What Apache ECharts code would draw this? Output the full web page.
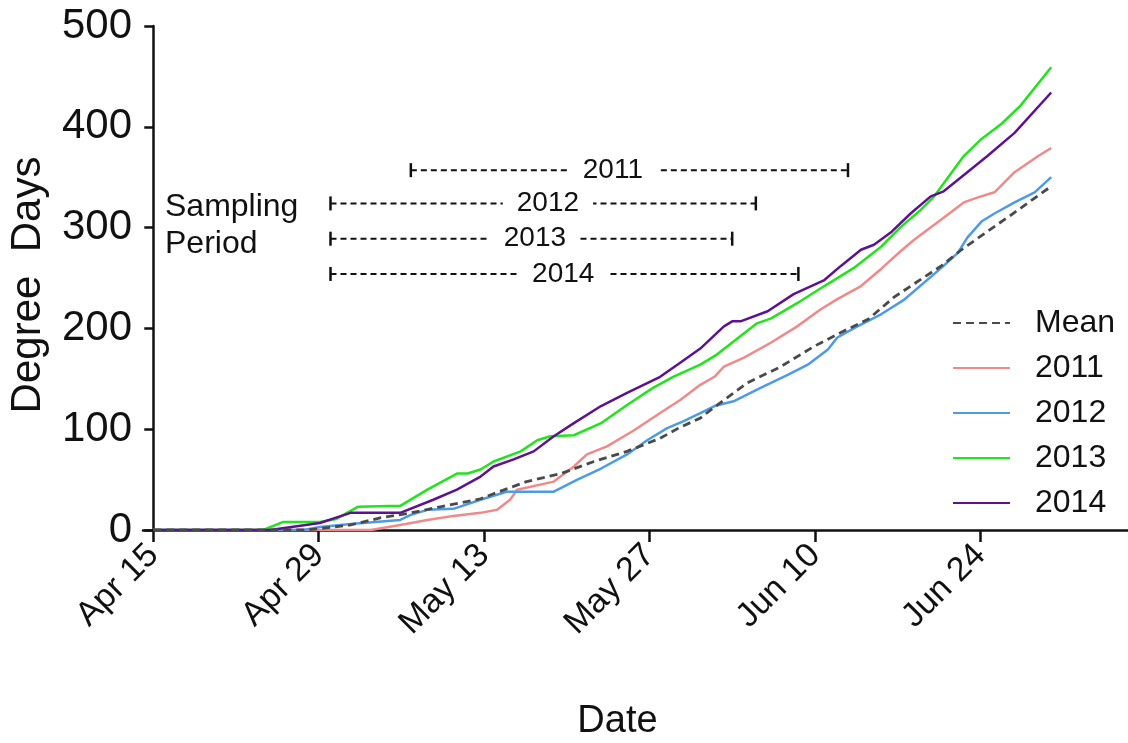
<!DOCTYPE html>
<html><head><meta charset="utf-8">
<script src="https://cdn.jsdelivr.net/npm/echarts@6/dist/echarts.min.js"></script>
<style>html,body{margin:0;padding:0;background:#fff}#c{width:1128px;height:743px}</style>
</head><body><div id="c"></div>
<script>
// x values are days after Apr 15
const tickDays = [0, 14, 28, 42, 56, 70];
const tickLabels = ['Apr 15', 'Apr 29', 'May 13', 'May 27', 'Jun 10', 'Jun 24'];

const seriesNames = ['Mean', '2011', '2012', '2013', '2014'];

const meanData = [[0,0],[13,0],[16.7,5],[19.2,12],[21.8,17],[24.3,23],[27.7,31],[28.8,36],[31.6,48],[34.5,56],[37.3,68],[40.1,78],[42.9,91],[44.6,102],[46.3,111],[47.5,122],[50.3,146],[53.1,162],[55.9,182],[58.2,196],[60.5,209],[62.7,231],[64.5,245],[66.7,262],[68.4,278],[70.1,292],[72.9,315],[76.0,341]];

const data2011 = [[0,0],[18.4,0],[20.9,5],[23.2,10],[25.4,14],[27.7,17],[29.1,20],[30.2,30],[30.8,40],[33.9,48],[35.6,63],[36.7,75],[38.4,83],[40.7,99],[42.9,116],[44.6,129],[46.3,144],[47.5,152],[48.3,162],[50.0,171],[52.3,186],[54.5,202],[56.5,219],[57.9,229],[59.9,242],[61.6,259],[63.3,277],[64.4,288],[66.7,308],[68.6,325],[69.8,330],[71.2,335],[72.9,355],[74.9,371],[76.0,379]];

const data2012 = [[0,0],[12.7,0],[14.1,3],[16.7,6],[20.9,10],[21.8,15],[23.2,20],[25.4,21],[27.7,30],[29.9,38],[33.9,38],[35.9,50],[37.9,61],[40.1,75],[41.8,89],[43.5,101],[44.9,108],[46.3,116],[47.5,123],[49.2,128],[51.4,141],[53.7,154],[55.4,164],[57.1,179],[57.9,191],[59.6,202],[61.6,214],[63.5,228],[66.7,260],[68.1,275],[68.9,290],[70.1,306],[71.2,314],[72.9,325],[74.6,335],[76.0,350]];

const data2013 = [[0,0],[9.3,0],[11.0,8],[14.1,8],[15.5,11],[17.3,23],[20.9,24],[23.2,40],[25.7,56],[26.6,56],[27.7,60],[28.8,68],[31.1,78],[32.5,89],[33.6,93],[35.6,94],[37.9,106],[40.1,124],[42.3,141],[44.0,152],[46.3,164],[47.7,174],[51.1,205],[52.3,210],[54.5,225],[56.8,242],[59.3,260],[61.6,281],[63.3,301],[65.0,318],[66.1,331],[68.6,371],[70.1,388],[71.8,403],[73.4,421],[76.0,459]];

const data2014 = [[0,0],[9.9,0],[14.1,7],[16.7,17],[20.9,17],[23.7,30],[25.7,40],[27.7,53],[28.8,63],[30.5,70],[32.2,78],[33.9,93],[35.6,106],[37.9,123],[40.1,136],[42.9,152],[44.6,166],[46.3,180],[48.3,202],[49.0,207],[49.7,207],[52.0,217],[54.2,234],[56.8,248],[58.2,262],[59.9,278],[61.0,283],[62.5,296],[64.1,314],[65.8,331],[66.9,336],[68.9,355],[70.6,371],[72.9,394],[76.0,434]];

// sampling periods
const periodYears = ['2011', '2012', '2013', '2014'];
const periodStart = [21.8, 15.0, 15.0, 15.0];
const periodEnd = [58.8, 51.0, 49.0, 54.6];
const periodLevel = [357, 324, 289, 254];
const periodLabelDay = [38.9, 33.4, 32.3, 34.7];

const FONT = 'Liberation Sans';
const colors = {Mean: '#4a4a4a', '2011': '#f08a8a', '2012': '#4c9be6', '2013': '#22e41c', '2014': '#5e1190'};
const lineData = {Mean: meanData, '2011': data2011, '2012': data2012, '2013': data2013, '2014': data2014};

const series = seriesNames.map(n => ({
  name: n, type: 'line', data: lineData[n], symbol: 'none', smooth: false,
  lineStyle: {color: colors[n], width: n === 'Mean' ? 2.8 : 2.5, type: n === 'Mean' ? [8, 5] : 'solid'},
  itemStyle: {color: colors[n]},
  z: n === 'Mean' ? 5 : 3
}));

periodYears.forEach((y, i) => {
  series.push({
    name: 'period' + y, type: 'line', symbol: 'rect', symbolSize: [2.5, 14],
    data: [[periodStart[i], periodLevel[i]], [periodEnd[i], periodLevel[i]]],
    lineStyle: {color: '#111', width: 2, type: [6, 4]}, itemStyle: {color: '#111'},
    silent: true, z: 4
  });
});
series.push({
  name: 'periodLabels', type: 'scatter', symbolSize: 0, z: 6, silent: true,
  itemStyle: {opacity: 1},
  data: periodYears.map((y, i) => [periodLabelDay[i], periodLevel[i], y]),
  label: {show: true, position: 'inside', formatter: p => p.value[2], fontSize: 28, fontFamily: FONT,
          color: '#111', opacity: 1, backgroundColor: '#fff', padding: [2, 14]}
});

const chart = echarts.init(document.getElementById('c'));
chart.setOption({
  backgroundColor: '#fff',
  animation: false,
  grid: {left: 143, right: 0, top: 26, bottom: 213, containLabel: false, outerBoundsMode: 'none'},
  legend: {
    data: seriesNames, orient: 'vertical', left: 947, top: 302,
    itemWidth: 57, itemHeight: 14, itemGap: 13,
    itemStyle: {opacity: 0},
    textStyle: {fontSize: 32, fontFamily: FONT, color: '#111', padding: [0, 0, 0, 20]}
  },
  xAxis: {
    type: 'value', min: -0.87, max: 82.5,
    name: 'Date', nameLocation: 'middle', nameGap: 173,
    nameTextStyle: {fontSize: 38, fontFamily: FONT, color: '#111', padding: [0, 36, 0, 0]},
    axisLine: {lineStyle: {color: '#111', width: 2.5}},
    axisTick: {show: true, customValues: tickDays, length: 12, lineStyle: {color: '#111', width: 2.5}},
    axisLabel: {customValues: tickDays, rotate: 45, margin: 20, fontSize: 34, fontFamily: FONT, color: '#111',
      formatter: v => tickLabels[tickDays.indexOf(Math.round(v))] || ''},
    splitLine: {show: false}
  },
  yAxis: {
    type: 'value', min: 0, max: 500, interval: 100,
    name: 'Degree  Days', nameLocation: 'middle', nameGap: 94,
    nameTextStyle: {fontSize: 42, fontFamily: FONT, color: '#111', padding: [0, 14, 0, 0]},
    axisLine: {show: true, lineStyle: {color: '#111', width: 2.5}},
    axisTick: {show: true, length: 9, lineStyle: {color: '#111', width: 2.5}},
    axisLabel: {fontSize: 42, fontFamily: FONT, color: '#111', margin: 11},
    splitLine: {show: false}
  },
  graphic: [
    {type: 'text', left: 165, top: 191, style: {text: 'Sampling', fontSize: 32, fontFamily: FONT, fill: '#111'}},
    {type: 'text', left: 165, top: 228, style: {text: 'Period', fontSize: 32, fontFamily: FONT, fill: '#111'}}
  ],
  series: series
});
</script></body></html>
